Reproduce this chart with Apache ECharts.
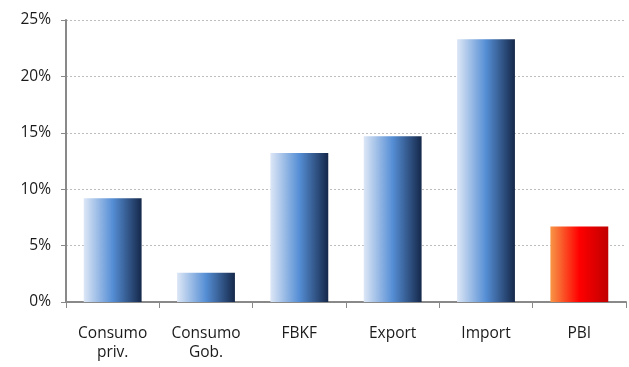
<!DOCTYPE html>
<html>
<head>
<meta charset="utf-8">
<script src="https://cdn.jsdelivr.net/npm/echarts@6/dist/echarts.min.js"></script>
<style>
  html, body { margin: 0; padding: 0; background: #fff; }
  #chart { width: 629px; height: 367px; }
</style>
</head>
<body>
<div id="chart"></div>
<script>
// Growth rates by demand component (%)
const categories = ['Consumo\npriv.', 'Consumo\nGob.', 'FBKF', 'Export', 'Import', 'PBI'];
const values = [9.2, 2.6, 13.2, 14.7, 23.3, 6.7];
const highlightIndex = 5; // PBI drawn in red

const blueGrad = new echarts.graphic.LinearGradient(0, 0, 1, 0, [
  { offset: 0, color: '#dde7f6' },
  { offset: 0.5, color: '#558ed5' },
  { offset: 1, color: '#15284a' }
]);
const redGrad = new echarts.graphic.LinearGradient(0, 0, 1, 0, [
  { offset: 0, color: '#f79646' },
  { offset: 0.5, color: '#ff0000' },
  { offset: 1, color: '#c00000' }
]);

const chart = echarts.init(document.getElementById('chart'), null, { renderer: 'canvas' });
chart.setOption({
  animation: false,
  grid: { left: 66, right: 3, top: 20, bottom: 65, containLabel: false },
  xAxis: {
    type: 'category',
    data: categories,
    axisLine: { lineStyle: { color: '#898989', width: 2 } },
    axisTick: { show: true, alignWithLabel: false, length: 6, lineStyle: { color: '#898989', width: 1 } },
    axisLabel: {
      color: '#1a1a1a', fontFamily: 'Open Sans', fontSize: 15.5, margin: 22, lineHeight: 19, interval: 0
    }
  },
  yAxis: {
    type: 'value',
    min: 0, max: 25, interval: 5,
    axisLine: { show: true, lineStyle: { color: '#898989', width: 2 } },
    axisTick: { show: true, length: 5, lineStyle: { color: '#898989' } },
    axisLabel: {
      formatter: '{value}%', color: '#1a1a1a', fontFamily: 'Open Sans', fontSize: 15.5, margin: 15
    },
    splitLine: { show: true, lineStyle: { color: '#bdbdbd', type: [2, 2], width: 1 } }
  },
  series: [{
    type: 'bar',
    barWidth: '62%',
    data: values.map((v, i) => ({
      value: v,
      itemStyle: { color: i === highlightIndex ? redGrad : blueGrad }
    }))
  }]
});
</script>
</body>
</html>
